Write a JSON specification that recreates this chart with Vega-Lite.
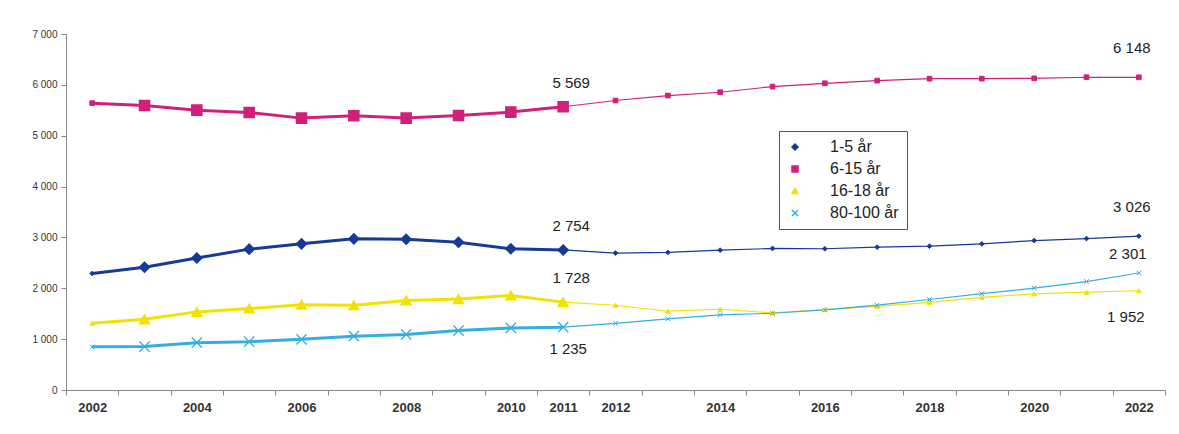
{
  "$schema": "https://vega.github.io/schema/vega-lite/v6.json",
  "autosize": "none",
  "width": 1099,
  "height": 356,
  "padding": {"left": 66, "top": 34, "right": 14, "bottom": 44},
  "background": "white",
  "config": {
    "locale": {"number": {"decimal": ",", "thousands": " ", "grouping": [3], "currency": ["", " kr"]}},
    "font": "Liberation Sans",
    "view": {"stroke": null},
    "legend": {
      "orient": "none", "legendX": 713, "legendY": 97, "title": null,
      "strokeColor": "#555", "fillColor": "white", "padding": 8,
      "labelFontSize": 16, "labelColor": "#222", "rowPadding": 6, "labelOffset": 27,
      "symbolSize": 36, "symbolStrokeWidth": 1.5, "labelFont": "Liberation Sans"
    }
  },
  "data": {"values": [
    {"year": 2002, "series": "1-5 år", "value": 2291},
    {"year": 2003, "series": "1-5 år", "value": 2414},
    {"year": 2004, "series": "1-5 år", "value": 2595},
    {"year": 2005, "series": "1-5 år", "value": 2770},
    {"year": 2006, "series": "1-5 år", "value": 2874},
    {"year": 2007, "series": "1-5 år", "value": 2972},
    {"year": 2008, "series": "1-5 år", "value": 2964},
    {"year": 2009, "series": "1-5 år", "value": 2906},
    {"year": 2010, "series": "1-5 år", "value": 2777},
    {"year": 2011, "series": "1-5 år", "value": 2754},
    {"year": 2012, "series": "1-5 år", "value": 2693},
    {"year": 2013, "series": "1-5 år", "value": 2706},
    {"year": 2014, "series": "1-5 år", "value": 2750},
    {"year": 2015, "series": "1-5 år", "value": 2783},
    {"year": 2016, "series": "1-5 år", "value": 2777},
    {"year": 2017, "series": "1-5 år", "value": 2809},
    {"year": 2018, "series": "1-5 år", "value": 2828},
    {"year": 2019, "series": "1-5 år", "value": 2874},
    {"year": 2020, "series": "1-5 år", "value": 2939},
    {"year": 2021, "series": "1-5 år", "value": 2978},
    {"year": 2022, "series": "1-5 år", "value": 3026},
    {"year": 2002, "series": "6-15 år", "value": 5640},
    {"year": 2003, "series": "6-15 år", "value": 5595},
    {"year": 2004, "series": "6-15 år", "value": 5503},
    {"year": 2005, "series": "6-15 år", "value": 5457},
    {"year": 2006, "series": "6-15 år", "value": 5346},
    {"year": 2007, "series": "6-15 år", "value": 5393},
    {"year": 2008, "series": "6-15 år", "value": 5346},
    {"year": 2009, "series": "6-15 år", "value": 5399},
    {"year": 2010, "series": "6-15 år", "value": 5464},
    {"year": 2011, "series": "6-15 år", "value": 5569},
    {"year": 2012, "series": "6-15 år", "value": 5692},
    {"year": 2013, "series": "6-15 år", "value": 5790},
    {"year": 2014, "series": "6-15 år", "value": 5855},
    {"year": 2015, "series": "6-15 år", "value": 5966},
    {"year": 2016, "series": "6-15 år", "value": 6031},
    {"year": 2017, "series": "6-15 år", "value": 6083},
    {"year": 2018, "series": "6-15 år", "value": 6122},
    {"year": 2019, "series": "6-15 år", "value": 6122},
    {"year": 2020, "series": "6-15 år", "value": 6128},
    {"year": 2021, "series": "6-15 år", "value": 6150},
    {"year": 2022, "series": "6-15 år", "value": 6148},
    {"year": 2002, "series": "16-18 år", "value": 1311},
    {"year": 2003, "series": "16-18 år", "value": 1389},
    {"year": 2004, "series": "16-18 år", "value": 1536},
    {"year": 2005, "series": "16-18 år", "value": 1602},
    {"year": 2006, "series": "16-18 år", "value": 1678},
    {"year": 2007, "series": "16-18 år", "value": 1666},
    {"year": 2008, "series": "16-18 år", "value": 1762},
    {"year": 2009, "series": "16-18 år", "value": 1788},
    {"year": 2010, "series": "16-18 år", "value": 1859},
    {"year": 2011, "series": "16-18 år", "value": 1728},
    {"year": 2012, "series": "16-18 år", "value": 1666},
    {"year": 2013, "series": "16-18 år", "value": 1549},
    {"year": 2014, "series": "16-18 år", "value": 1588},
    {"year": 2015, "series": "16-18 år", "value": 1517},
    {"year": 2016, "series": "16-18 år", "value": 1582},
    {"year": 2017, "series": "16-18 år", "value": 1646},
    {"year": 2018, "series": "16-18 år", "value": 1724},
    {"year": 2019, "series": "16-18 år", "value": 1820},
    {"year": 2020, "series": "16-18 år", "value": 1892},
    {"year": 2021, "series": "16-18 år", "value": 1923},
    {"year": 2022, "series": "16-18 år", "value": 1952},
    {"year": 2002, "series": "80-100 år", "value": 848},
    {"year": 2003, "series": "80-100 år", "value": 854},
    {"year": 2004, "series": "80-100 år", "value": 931},
    {"year": 2005, "series": "80-100 år", "value": 950},
    {"year": 2006, "series": "80-100 år", "value": 996},
    {"year": 2007, "series": "80-100 år", "value": 1059},
    {"year": 2008, "series": "80-100 år", "value": 1093},
    {"year": 2009, "series": "80-100 år", "value": 1169},
    {"year": 2010, "series": "80-100 år", "value": 1220},
    {"year": 2011, "series": "80-100 år", "value": 1235},
    {"year": 2012, "series": "80-100 år", "value": 1310},
    {"year": 2013, "series": "80-100 år", "value": 1400},
    {"year": 2014, "series": "80-100 år", "value": 1478},
    {"year": 2015, "series": "80-100 år", "value": 1509},
    {"year": 2016, "series": "80-100 år", "value": 1574},
    {"year": 2017, "series": "80-100 år", "value": 1670},
    {"year": 2018, "series": "80-100 år", "value": 1779},
    {"year": 2019, "series": "80-100 år", "value": 1894},
    {"year": 2020, "series": "80-100 år", "value": 2004},
    {"year": 2021, "series": "80-100 år", "value": 2132},
    {"year": 2022, "series": "80-100 år", "value": 2301}
  ]},
  "encoding": {
    "x": {
      "field": "year", "type": "quantitative",
      "scale": {"domain": [2001.5, 2022.5], "nice": false, "zero": false},
      "axis": {
        "title": null, "grid": false,
        "values": [2001.5, 2002, 2002.5, 2003.5, 2004, 2004.5, 2005.5, 2006, 2006.5, 2007.5, 2008, 2008.5, 2009.5, 2010, 2010.5, 2011, 2011.5, 2012, 2012.5, 2013.5, 2014, 2014.5, 2015.5, 2016, 2016.5, 2017.5, 2018, 2018.5, 2019.5, 2020, 2020.5, 2021.5, 2022, 2022.5],
        "labelExpr": "indexof([2002,2004,2006,2008,2010,2011,2012,2014,2016,2018,2020,2022], datum.value) >= 0 ? '' + datum.value : ''",
        "labelOverlap": false, "labelBound": false, "labelFlush": false,
        "labelFontSize": 13, "labelFontWeight": "bold", "labelColor": "#333", "labelPadding": 6,
        "domainColor": "#888", "tickColor": "#888", "tickSize": 5,
        "tickOpacity": {"condition": {"test": "datum.value % 1 === 0", "value": 0}, "value": 1}
      }
    },
    "y": {
      "field": "value", "type": "quantitative",
      "scale": {"domain": [0, 7000], "nice": false},
      "axis": {
        "title": null, "grid": false, "values": [0, 1000, 2000, 3000, 4000, 5000, 6000, 7000],
        "format": ",d", "labelFontSize": 10, "labelColor": "#333", "labelPadding": 4,
        "domainColor": "#888", "tickColor": "#888", "tickSize": 5
      }
    }
  },
  "layer": [
    {
      "transform": [{"filter": "datum.year <= 2011"}],
      "mark": {"type": "line", "strokeWidth": 3},
      "encoding": {
        "stroke": {"field": "series", "type": "nominal",
          "scale": {"domain": ["1-5 år", "6-15 år", "16-18 år", "80-100 år"], "range": ["#163a96", "#d1207a", "#f2e200", "#35ade3"]}}
      }
    },
    {
      "transform": [{"filter": "datum.year >= 2011"}],
      "mark": {"type": "line", "strokeWidth": 1.2},
      "encoding": {
        "stroke": {"field": "series", "type": "nominal"}
      }
    },
    {
      "transform": [{"filter": "datum.year >= 2003 && datum.year <= 2011"}],
      "mark": {"type": "point", "filled": true, "strokeWidth": 1.3, "size": 105, "opacity": 1},
      "encoding": {
        "fill": {"field": "series", "type": "nominal",
          "scale": {"domain": ["1-5 år", "6-15 år", "16-18 år", "80-100 år"], "range": ["#163a96", "#d1207a", "#f2e200", "#35ade3"]}},
        "stroke": {"field": "series", "type": "nominal"},
        "shape": {"field": "series", "type": "nominal",
          "scale": {"domain": ["1-5 år", "6-15 år", "16-18 år", "80-100 år"], "range": ["diamond", "square", "triangle-up", "M-1,-1L1,1M1,-1L-1,1"]}}
      }
    },
    {
      "transform": [{"filter": "datum.year >= 2012 || datum.year == 2002"}],
      "mark": {"type": "point", "filled": true, "strokeWidth": 1, "size": 22, "opacity": 1},
      "encoding": {
        "fill": {"field": "series", "type": "nominal"},
        "stroke": {"field": "series", "type": "nominal"},
        "shape": {"field": "series", "type": "nominal"}
      }
    },
    {
      "transform": [{"filter": "datum.year == 2011 && datum.series != '80-100 år'"}],
      "mark": {"type": "text", "dy": -24, "dx": 8, "fontSize": 15, "color": "#222"},
      "encoding": {"text": {"field": "value", "type": "quantitative", "format": ",d"}}
    },
    {
      "transform": [{"filter": "datum.year == 2011 && datum.series == '80-100 år'"}],
      "mark": {"type": "text", "dy": 22, "dx": 5, "fontSize": 15, "color": "#222"},
      "encoding": {"text": {"field": "value", "type": "quantitative", "format": ",d"}}
    },
    {
      "transform": [{"filter": "datum.year == 2022 && (datum.series == '1-5 år' || datum.series == '6-15 år')"}],
      "mark": {"type": "text", "dy": -29, "dx": -7, "fontSize": 15, "color": "#222"},
      "encoding": {"text": {"field": "value", "type": "quantitative", "format": ",d"}}
    },
    {
      "transform": [{"filter": "datum.year == 2022 && datum.series == '80-100 år'"}],
      "mark": {"type": "text", "dy": -19, "dx": -11, "fontSize": 15, "color": "#222"},
      "encoding": {"text": {"field": "value", "type": "quantitative", "format": ",d"}}
    },
    {
      "transform": [{"filter": "datum.year == 2022 && datum.series == '16-18 år'"}],
      "mark": {"type": "text", "dy": 26, "dx": -13, "fontSize": 15, "color": "#222"},
      "encoding": {"text": {"field": "value", "type": "quantitative", "format": ",d"}}
    }
  ]
}
